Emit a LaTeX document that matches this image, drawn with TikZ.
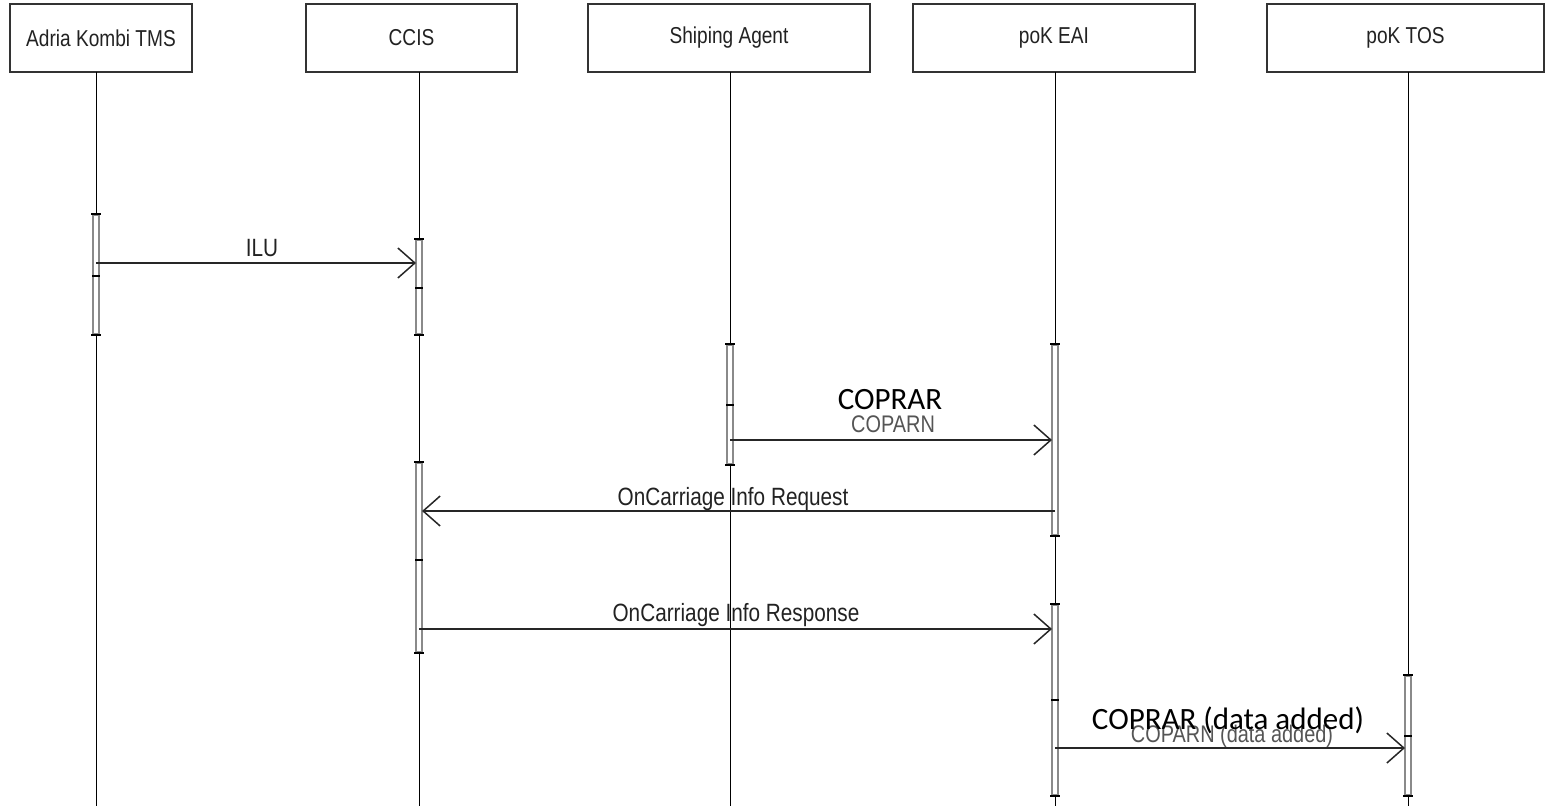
\documentclass[tikz,border=0pt]{standalone}
\usepackage{fontspec}
\setmainfont{Liberation Sans}[FakeStretch=0.83]
\newfontfamily\calib{Carlito}
\usetikzlibrary{arrows.meta}
\definecolor{boxline}{HTML}{333333}
\definecolor{barline}{HTML}{8A8A8A}
\definecolor{txt}{HTML}{222222}
\definecolor{graytxt}{HTML}{555555}
\tikzset{
  header/.style={draw=boxline, line width=1.8pt, fill=white, minimum height=68pt, inner sep=0pt, font=\fontsize{23}{26}\selectfont, text=txt},
  lifeline/.style={draw=black, line width=1pt},
  actbar/.style={draw=barline, line width=1.8pt, fill=white, minimum width=6pt, inner sep=0pt},
  tick/.style={draw=black, line width=1.3pt},
  msg/.style={draw=black!85, line width=1.5pt, -{Straight Barb[length=17pt,width=30pt,line width=1.5pt]}, shorten >=3pt},
  msglabel/.style={anchor=base, inner sep=0pt, font=\fontsize{25}{28}\selectfont, text=txt},
  graylabel/.style={anchor=base, inner sep=0pt, font=\fontsize{24}{27}\selectfont, text=graytxt},
  overlay/.style={anchor=base, inner sep=0pt, font=\calib\fontsize{31}{36}\selectfont, text=black}
}
\begin{document}
\begin{tikzpicture}[x=1pt, y=-1pt]
\useasboundingbox (0,0) rectangle (1546,806);
% headers
\node[header, minimum width=182pt] (h1) at (101,38) {Adria Kombi TMS};
\node[header, minimum width=211pt] (h2) at (411.5,38) {CCIS};
\node[header, minimum width=282pt] (h3) at (729,38) {Shiping Agent};
\node[header, minimum width=282pt] (h4) at (1054,38) {poK EAI};
\node[header, minimum width=277pt] (h5) at (1405.5,38) {poK TOS};
% lifeline ends
\coordinate (l1t) at (96,72);   \coordinate (l1b) at (96,806);
\coordinate (l2t) at (419,72);  \coordinate (l2b) at (419,806);
\coordinate (l3t) at (730,72);  \coordinate (l3b) at (730,806);
\coordinate (l4t) at (1055,72); \coordinate (l4b) at (1055,806);
\coordinate (l5t) at (1408,72); \coordinate (l5b) at (1408,806);
\draw[lifeline] (l1t) -- (l1b);
\draw[lifeline] (l2t) -- (l2b);
\draw[lifeline] (l3t) -- (l3b);
\draw[lifeline] (l4t) -- (l4b);
\draw[lifeline] (l5t) -- (l5b);
% activation bars
\node[actbar, minimum height=119pt] (a1) at (96,274.5) {};
\node[actbar, minimum height=94pt] (c1) at (419,287) {};
\node[actbar, minimum height=189pt] (c2) at (419,557.5) {};
\node[actbar, minimum height=119pt] (s1) at (730,404.5) {};
\node[actbar, minimum height=190pt] (e1) at (1055,440) {};
\node[actbar, minimum height=190pt] (e2) at (1055,700) {};
\node[actbar, minimum height=119pt] (t1) at (1408,735.5) {};
% ticks
\foreach \b in {a1,c1,c2,s1,e1,e2,t1}{
  \draw[tick] ([xshift=-1pt]\b.north west) -- ([xshift=1pt]\b.north east);
  \draw[tick] ([xshift=-1pt]\b.south west) -- ([xshift=1pt]\b.south east);
}
\draw[tick] (92,276) -- (100,276);
\draw[tick] (415,288) -- (423,288);
\draw[tick] (415,560) -- (423,560);
\draw[tick] (726,405) -- (734,405);
\draw[tick] (1051,700) -- (1059,700);
\draw[tick] (1404,736) -- (1412,736);
% message endpoints
\coordinate (m1s) at (96,263);   \coordinate (m1e) at (419,263);
\coordinate (m2s) at (730,440);  \coordinate (m2e) at (1055,440);
\coordinate (m3s) at (1055,511); \coordinate (m3e) at (419,511);
\coordinate (m4s) at (419,629);  \coordinate (m4e) at (1055,629);
\coordinate (m5s) at (1055,748); \coordinate (m5e) at (1408,748);
\draw[msg] (m1s) -- (m1e);
\draw[msg] (m2s) -- (m2e);
\draw[msg] (m3s) -- (m3e);
\draw[msg] (m4s) -- (m4e);
\draw[msg] (m5s) -- (m5e);
% labels
\node[msglabel] (lb1) at (262,256) {ILU};
\node[graylabel] (lb2) at (893,432) {COPARN};
\node[msglabel] (lb3) at (733,505) {OnCarriage Info Request};
\node[msglabel] (lb4) at (736,621) {OnCarriage Info Response};
\node[graylabel] (lb5) at (1232,742) {COPARN (data added)};
\node[overlay] (ov1) at (890,409) {COPRAR};
\node[overlay] (ov2) at (1228,729) {COPRAR (data added)};
\end{tikzpicture}
\end{document}
